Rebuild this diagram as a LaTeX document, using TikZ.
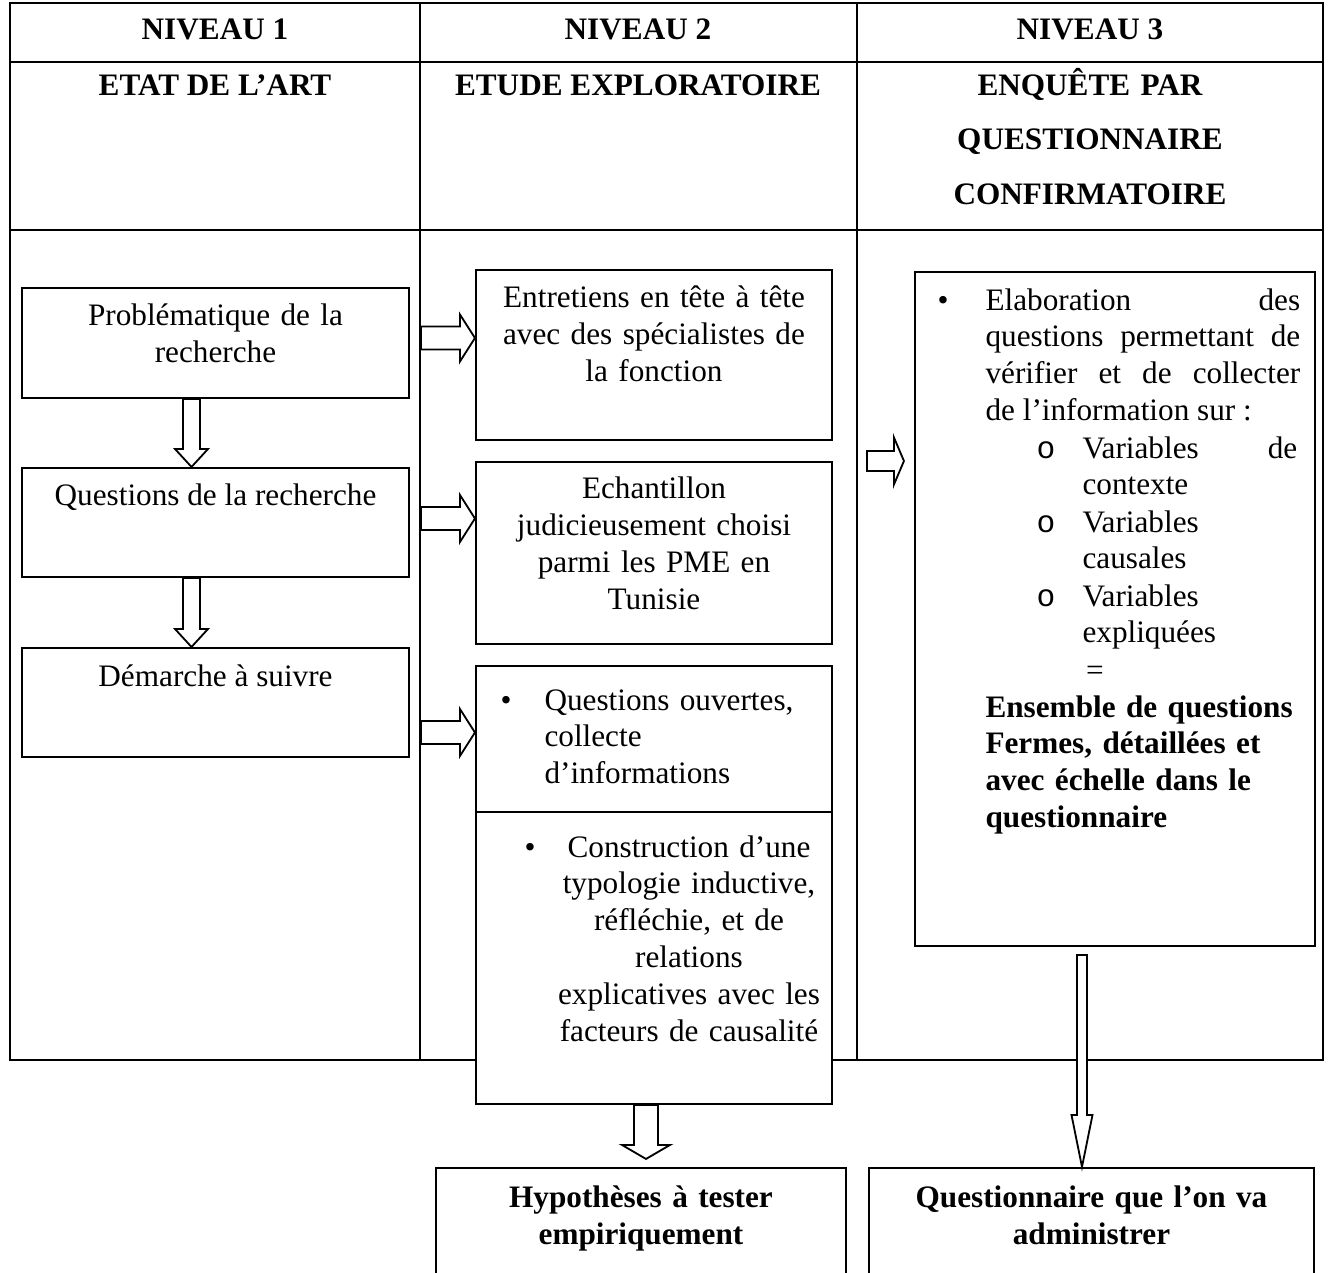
\documentclass[tikz,border=0pt]{standalone}
\usepackage{fontspec}
\setmainfont{Liberation Serif}
\newfontfamily\circfont{Liberation Mono}
\usepackage{tikz}
\usetikzlibrary{positioning,fit,calc}

\tikzset{
  tabline/.style={line width=1pt},
  boxline/.style={line width=0.8pt},
  box/.style={boxline, draw, fill=white, inner sep=0pt},
  txt/.style={inner sep=0pt, align=center, font=\fontsize{12}{14.2}\selectfont},
  btxt/.style={txt, font=\fontsize{12}{14.2}\selectfont\bfseries},
  hdr/.style={txt, font=\fontsize{12}{21.1}\selectfont\bfseries},
  blockarrow/.style={draw, line width=0.7pt, fill=white, line join=miter}
}

% #1 tail, #2 tip, #3 half shaft, #4 half head, #5 head length
\newcommand{\downblock}[5]{%
  \draw[blockarrow] ($#1+(-#3,0)$) -- ($#2+(-#3,-#5)$) -- ($#2+(-#4,-#5)$) -- #2
    -- ($#2+(#4,-#5)$) -- ($#2+(#3,-#5)$) -- ($#1+(#3,0)$) -- cycle;}
\newcommand{\rightblock}[5]{%
  \draw[blockarrow] ($#1+(0,-#3)$) -- ($#2+(-#5,-#3)$) -- ($#2+(-#5,-#4)$) -- #2
    -- ($#2+(-#5,#4)$) -- ($#2+(-#5,#3)$) -- ($#1+(0,#3)$) -- cycle;}

\begin{document}
\begin{tikzpicture}[x=0.0135cm,y=-0.0135cm]
\useasboundingbox (0,0) rectangle (1333,1273);
\clip (0,0) rectangle (1333,1273);

% tableau
\coordinate (tl) at (10,3);
\coordinate (br) at (1323,1060);
\coordinate (sep1) at (421,0);
\draw[tabline] (tl) rectangle (br);
\draw[tabline] (10,62) -- (1323,62);
\draw[tabline] (10,230) -- (1323,230);
\draw[tabline] (420,3) -- (420,1060);
\draw[tabline] (857,3) -- (857,1060);

\node[hdr, anchor=base] (niv1) at (215,39) {NIVEAU 1};
\node[hdr, anchor=base] (niv2) at (638,39) {NIVEAU 2};
\node[hdr, anchor=base] (niv3) at (1090,39) {NIVEAU 3};
\node[hdr, anchor=base] (etat) at (215,95) {ETAT DE L’ART};
\node[hdr, anchor=base] (etude) at (638,95) {ETUDE EXPLORATOIRE};
\node[hdr, anchor=base, text width=5.5cm] (enq) at (1090,95) {ENQUÊTE PAR\\QUESTIONNAIRE\\CONFIRMATOIRE};

% niveau 1
\node[box, fit={(22,288) (409,398)}] (prob) {};
\node[box, fit={(22,468) (409,577)}] (quest) {};
\node[box, fit={(22,648) (409,757)}] (dem) {};
\node[txt, anchor=base, text width=5.2cm] (probt) at ($(prob.north)+(0,39)$) {Problématique de la\\recherche};
\node[txt, anchor=base] (questt) at ($(quest.north)+(0,39)$) {Questions de la recherche};
\node[txt, anchor=base] (demt) at ($(dem.north)+(0,40)$) {Démarche à suivre};

% niveau 2
\node[box, fit={(476,270) (832,440)}] (entr) {};
\node[box, fit={(476,462) (832,644)}] (echant) {};
\node[box, fit={(476,666) (832,1104)}] (ouv) {};
\draw[boxline] (ouv.west |- 0,812) -- (ouv.east |- 0,812);
\node[txt, anchor=base, text width=4.8cm] (entrt) at ($(entr.north)+(0,39)$) {Entretiens en tête à tête\\avec des spécialistes de\\la fonction};
\node[txt, anchor=base, text width=4.8cm] (echantt) at ($(echant.north)+(0,38)$) {Echantillon\\judicieusement choisi\\parmi les PME en\\Tunisie};
\node[txt, anchor=base] (bul1) at (506,710) {•};
\node[txt, anchor=base west, align=left, text width=3.9cm] (ouvt) at (544,710) {Questions ouvertes,\\collecte\\d’informations};
\node[txt, anchor=base] (bul2) at (530,857) {•};
\node[txt, anchor=base, text width=4.2cm] (constrt) at (689,857) {Construction d’une\\typologie inductive,\\réfléchie, et de\\relations\\explicatives avec les\\facteurs de causalité};

% niveau 3
\node[box, fit={(915,272) (1315,946)}] (elab) {};
\node[txt, anchor=base] (bul3) at (943,310) {•};
\node[txt, anchor=base west, text width=4.25cm, align=justify] (elabt) at (985,310) {Elaboration des\linebreak questions permettant de\linebreak vérifier et de collecter\linebreak de l’information sur :};
\node[txt, anchor=base] (o1) at (1046,458) {\circfont o};
\node[txt, anchor=base west, text width=2.9cm, align=justify] (var1) at (1082,458) {Variables de\linebreak contexte};
\node[txt, anchor=base] (o2) at (1046,532) {\circfont o};
\node[txt, anchor=base west, align=left, text width=2.9cm] (var2) at (1082,532) {Variables\\causales};
\node[txt, anchor=base] (o3) at (1046,606) {\circfont o};
\node[txt, anchor=base west, align=left, text width=2.9cm] (var3) at (1082,606) {Variables\\expliquées};
\node[txt, anchor=base] (eq) at (1095,680) {=};
\node[btxt, anchor=base west, align=left, text width=4.3cm] (ens) at (985,717) {Ensemble de questions\\Fermes, détaillées et\\avec échelle dans le\\questionnaire};

% resultats
\node[box, fit={(436,1168) (846,1290)}] (hyp) {};
\node[box, fit={(869,1168) (1314,1290)}] (admin) {};
\node[btxt, anchor=base, text width=5.5cm] (hypt) at ($(hyp.north)+(0,41)$) {Hypothèses à tester\\empiriquement};
\node[btxt, anchor=base, text width=5.9cm] (admint) at ($(admin.north)+(0,41)$) {Questionnaire que l’on va\\administrer};

% fleches
\path (prob.south) ++(-24,0) coordinate (v1s);
\coordinate (v1e) at (v1s |- quest.north);
\path (quest.south) ++(-24,0) coordinate (v2s);
\coordinate (v2e) at (v2s |- dem.north);
\downblock{(v1s)}{(v1e)}{8.5}{16.5}{18}
\downblock{(v2s)}{(v2e)}{8.5}{16.5}{18}

\path (prob.east -| entr.west) ++(0,-5) coordinate (h1e);
\coordinate (h1s) at (h1e -| sep1);
\path (quest.east -| echant.west) ++(0,-4) coordinate (h2e);
\coordinate (h2s) at (h2e -| sep1);
\path (dem.east -| ouv.west) ++(0,30) coordinate (h3e);
\coordinate (h3s) at (h3e -| sep1);
\rightblock{(h1s)}{(h1e)}{11.5}{23.5}{15}
\rightblock{(h2s)}{(h2e)}{11.5}{23.5}{15}
\rightblock{(h3s)}{(h3e)}{11.5}{23.5}{15}

\path (elab.west) ++(-10,-148) coordinate (h4e);
\path (h4e) ++(-37,0) coordinate (h4s);
\rightblock{(h4s)}{(h4e)}{10}{23.5}{10}

\path (ouv.south) ++(-8,0) coordinate (v3s);
\path (v3s |- hyp.north) ++(0,-8) coordinate (v3e);
\downblock{(v3s)}{(v3e)}{12}{24}{14}

\path (elab.south) ++(-33,8) coordinate (v4s);
\coordinate (v4e) at (v4s |- admin.north);
\downblock{(v4s)}{(v4e)}{5}{10.5}{52}
\end{tikzpicture}
\end{document}
